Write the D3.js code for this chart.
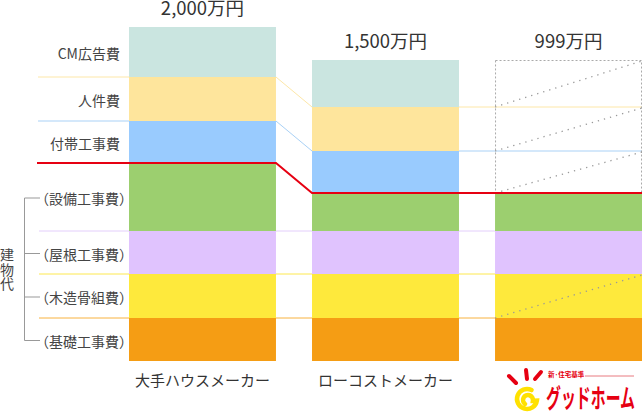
<!DOCTYPE html>
<html>
<head>
<meta charset="utf-8">
<script src="https://cdn.jsdelivr.net/npm/d3@7"></script>
<style>
  body { margin: 0; background: #fff; }
  svg { display: block; font-family: "Noto Sans CJK JP", "Noto Sans", sans-serif; }
</style>
</head>
<body>
<svg width="644" height="415"></svg>
<script>
// **** data (bottom segment first) ****
var makers = ['大手ハウスメーカー', 'ローコストメーカー', 'グッドホーム'];
var prices = ['2,000万円', '1,500万円', '999万円'];
var items = ['基礎工事費', '木造骨組費', '屋根工事費', '設備工事費', '付帯工事費', '人件費', 'CM広告費'];
var buildingItems = ['基礎工事費', '木造骨組費', '屋根工事費', '設備工事費'];
// segment sizes as drawn (schematic, not to scale with the price)
var bigMaker = [43, 44, 43, 68, 42, 44, 50];
var lowCost = [43, 44, 43, 38, 42, 44, 47];
var goodHome = [43, 44, 43, 38, 42, 44, 47];
// segments that グッドホーム cuts away / reduces
var cutItems = ['付帯工事費', '人件費', 'CM広告費'];
var reducedItems = ['木造骨組費', '付帯工事費', '人件費', 'CM広告費'];

var colors = {
    '基礎工事費': '#f59d14',
    '木造骨組費': '#fee93c',
    '屋根工事費': '#e0c3fe',
    '設備工事費': '#9ccf6f',
    '付帯工事費': '#99cbfe',
    '人件費': '#fee59c',
    'CM広告費': '#cae5e0'
};
var lineColors = {
    '基礎工事費': '#f8b23f',
    '木造骨組費': '#fde84f',
    '屋根工事費': '#e3cefb',
    '付帯工事費': '#e60012',
    '人件費': '#a9d1f6',
    'CM広告費': '#fde7a8'
};

var rows = makers.map(function(m, i) {
    var vals = [bigMaker, lowCost, goodHome][i];
    var r = {maker: m};
    items.forEach(function(k, j) { r[k] = vals[j]; });
    return r;
});
var series = d3.stack().keys(items)(rows);

var svg = d3.select('svg');

var x = d3.scaleBand().domain(makers).range([129, 642]).paddingInner(0.197);
var y = d3.scaleLinear().domain([0, d3.sum(bigMaker)]).range([361, 27]);
var bw = x.bandwidth();

// bottom edge (y) of item k for bar i
function edge(k, i) { return y(series[items.indexOf(k)][i][0]); }

// **** lines behind the bars ****
var lines = svg.append('g');
['木造骨組費', '屋根工事費', '設備工事費'].forEach(function(k) {
    lines.append('line')
        .attr('x1', 39).attr('x2', 642)
        .attr('y1', edge(k, 0)).attr('y2', edge(k, 0))
        .attr('stroke', lineColors[items[items.indexOf(k) - 1]]);
});
['人件費', 'CM広告費'].forEach(function(k) {
    lines.append('path')
        .attr('d', 'M38,' + edge(k, 0) + 'H' + (x(makers[0]) + bw) +
            'L' + x(makers[1]) + ',' + edge(k, 1) + 'H642')
        .attr('fill', 'none')
        .attr('stroke', lineColors[k]);
});

// **** bars ****
series.forEach(function(s) {
    svg.append('g').selectAll('rect').data(s).enter()
        .filter(function(d, i) { return !(i == 2 && cutItems.indexOf(s.key) >= 0); })
        .append('rect')
        .attr('x', function(d) { return x(d.data.maker); })
        .attr('y', function(d) { return y(d[1]); })
        .attr('width', bw)
        .attr('height', function(d) { return y(d[0]) - y(d[1]); })
        .attr('fill', colors[s.key]);
});

// dashed box for the cut segments of the third bar
var cutTop = y(series[items.indexOf('CM広告費')][2][1]);
var cutBottom = edge('付帯工事費', 2);
svg.append('rect')
    .attr('x', x(makers[2]) + 0.5).attr('y', cutTop + 0.5)
    .attr('width', bw - 1).attr('height', cutBottom - cutTop)
    .attr('fill', 'none')
    .attr('stroke', '#aaa')
    .attr('stroke-dasharray', '2,2');

reducedItems.forEach(function(k) {
    var d = series[items.indexOf(k)][2];
    svg.append('line')
        .attr('x1', x(makers[2])).attr('y1', y(d[0]))
        .attr('x2', x(makers[2]) + bw).attr('y2', y(d[1]) + 1)
        .attr('stroke', '#999')
        .attr('stroke-width', 1.3)
        .attr('stroke-dasharray', '1.3,5');
});

// red line: building cost border
svg.append('path')
    .attr('d', 'M37,' + edge('付帯工事費', 0) + 'H' + (x(makers[0]) + bw) +
        'L' + x(makers[1]) + ',' + edge('付帯工事費', 1) + 'H642')
    .attr('fill', 'none')
    .attr('stroke', '#e60012')
    .attr('stroke-width', 2);

// **** labels ****
series.forEach(function(s) {
    var d = s[0];
    var cy = (y(d[0]) + y(d[1])) / 2 + 1;
    var paren = buildingItems.indexOf(s.key) >= 0;
    svg.append('text')
        .attr('x', paren ? 35 : 120)
        .attr('y', cy)
        .attr('text-anchor', paren ? 'start' : 'end')
        .attr('dominant-baseline', 'central')
        .attr('font-size', 14)
        .attr('fill', '#444')
        .text(paren ? '（' + s.key + '）' : s.key);
});

// bracket for 建物代
var tickYs = buildingItems.map(function(k) {
    var d = series[items.indexOf(k)][0];
    return (y(d[0]) + y(d[1])) / 2 + 1;
});
svg.append('path')
    .attr('d', 'M40,' + d3.min(tickYs) + 'H24.5V' + d3.max(tickYs) + 'H40' +
        tickYs.slice(1, -1).map(function(t) { return 'M24.5,' + t + 'H40'; }).join(''))
    .attr('fill', 'none')
    .attr('stroke', '#999');

svg.append('text')
    .attr('x', 7).attr('y', 248)
    .attr('writing-mode', 'vertical-rl')
    .attr('font-size', 14)
    .attr('letter-spacing', 0.5)
    .attr('fill', '#444')
    .text('建物代');

// price on top of each bar
makers.forEach(function(m, i) {
    var top = i == 2 ? cutTop : y(series[items.length - 1][i][1]);
    svg.append('text')
        .attr('x', x(m) + bw / 2)
        .attr('y', top - 12)
        .attr('text-anchor', 'middle')
        .attr('font-size', 18.5)
        .attr('fill', '#333')
        .text(prices[i]);
});

// maker names
makers.slice(0, 2).forEach(function(m) {
    svg.append('text')
        .attr('x', x(m) + bw / 2)
        .attr('y', 386)
        .attr('text-anchor', 'middle')
        .attr('font-size', 15)
        .attr('fill', '#333')
        .text(m);
});

// グッドホーム logo
var logo = svg.append('g');
[[509, 376, 516, 383], [526, 370, 527, 379], [541, 372, 535, 379]].forEach(function(r) {
    logo.append('line')
        .attr('x1', r[0]).attr('y1', r[1]).attr('x2', r[2]).attr('y2', r[3])
        .attr('stroke', '#e60012').attr('stroke-width', 4)
        .attr('stroke-linecap', 'round');
});
var spiral = d3.path();
spiral.arc(527, 399, 10, -Math.PI * 0.35, -Math.PI * 1.95, true);
spiral.arc(528, 400, 5, -Math.PI * 1.95, -Math.PI * 3.3, true);
logo.append('path').attr('d', spiral.toString())
    .attr('fill', 'none').attr('stroke', '#ffe100').attr('stroke-width', 4.5)
    .attr('stroke-linecap', 'round');
logo.append('text')
    .attr('x', 548).attr('y', 377)
    .attr('font-size', 6.5).attr('font-weight', 'bold')
    .attr('fill', '#e60012')
    .text('新·住宅基準');
logo.append('line')
    .attr('x1', 585).attr('x2', 634).attr('y1', 376).attr('y2', 376)
    .attr('stroke', '#e87a80').attr('stroke-width', 1);
logo.append('text')
    .attr('x', 546).attr('y', 408)
    .attr('font-size', 26).attr('font-weight', 'bold')
    .attr('textLength', 89).attr('lengthAdjust', 'spacingAndGlyphs')
    .attr('fill', '#e60012')
    .text('グッドホーム');
</script>
</body>
</html>
